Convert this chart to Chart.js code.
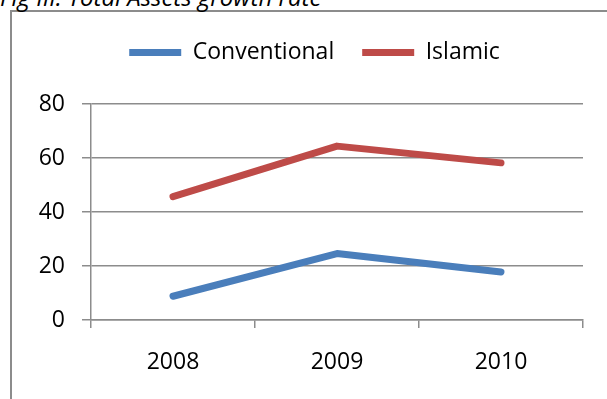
<!DOCTYPE html>
<html>
<head>
<meta charset="utf-8">
<script src="https://cdn.jsdelivr.net/npm/chart.js@4/dist/chart.umd.min.js"></script>
<style>
  html, body { margin: 0; padding: 0; background: #fff; }
  #wrap { position: relative; width: 607px; height: 399px; overflow: hidden; }
  #frame { position: absolute; left: 10px; top: 10px; width: 700px; height: 500px;
           border: 2px solid #8c8c8c; box-sizing: border-box; }
  #title { position: absolute; left: 0px; top: -20px; font-family: "Open Sans", sans-serif;
           font-style: italic; font-size: 24px; color: #000; white-space: nowrap; }
  #c { position: absolute; left: 0; top: 0; }
</style>
</head>
<body>
<div id="wrap">
  <div id="frame"></div>
  <div id="title">Fig III: Total Assets growth rate</div>
  <canvas id="c" width="607" height="399"></canvas>
</div>
<script>
const categories = ["2008", "2009", "2010"];
const conventional = [8.8, 24.6, 17.8];
const islamic = [45.7, 64.4, 58.2];
const yTicks = [0, 20, 40, 60, 80];

const gridColor = '#8c8c8c';
const font = { family: '"Open Sans", sans-serif', size: 23 };

new Chart(document.getElementById('c'), {
  type: 'line',
  data: {
    labels: categories,
    datasets: [
      { label: 'Conventional', data: conventional, borderColor: '#4A7EBB', backgroundColor: '#4A7EBB',
        borderWidth: 7, borderCapStyle: 'round', borderJoinStyle: 'round', pointRadius: 0, tension: 0 },
      { label: 'Islamic', data: islamic, borderColor: '#BE4B48', backgroundColor: '#BE4B48',
        borderWidth: 7, borderCapStyle: 'round', borderJoinStyle: 'round', pointRadius: 0, tension: 0 }
    ]
  },
  options: {
    responsive: false,
    animation: false,
    layout: { padding: { left: 36, right: 14, top: 13, bottom: 0 } },
    plugins: {
      title: { display: false },
      tooltip: { enabled: false },
      legend: {
        display: true,
        position: 'top',
        labels: {
          usePointStyle: true,
          pointStyle: 'line',
          pointStyleWidth: 52,
          boxHeight: 23,
          padding: 28,
          color: '#000',
          font: font
        }
      }
    },
    scales: {
      x: {
        offset: true,
        grid: { offset: true, drawOnChartArea: false, drawTicks: true, tickLength: 8, color: gridColor, lineWidth: 1.5 },
        border: { display: true, color: gridColor, width: 1.5 },
        ticks: { color: '#000', font: font, padding: 21, maxRotation: 0 },
        afterFit: (s) => { s.height = 79; }
      },
      xTop: {
        type: 'category',
        position: 'top',
        display: true,
        grid: { display: false, drawTicks: false },
        border: { display: false },
        ticks: { display: false },
        afterFit: (s) => { s.height = 30; }
      },
      y: {
        min: 0, max: 80,
        afterBuildTicks: (s) => { s.ticks = yTicks.map(v => ({ value: v })); },
        grid: { color: gridColor, lineWidth: 1.5, drawTicks: true, tickLength: 9 },
        border: { display: true, color: gridColor, width: 1.5 },
        ticks: { color: '#000', font: font, padding: 17 },
        afterFit: (s) => { s.width = 55; }
      },
      yRight: {
        type: 'linear',
        position: 'right',
        display: true,
        grid: { display: false, drawTicks: false },
        border: { display: false },
        ticks: { display: false },
        afterFit: (s) => { s.width = 10; }
      }
    }
  }
});
</script>
</body>
</html>
